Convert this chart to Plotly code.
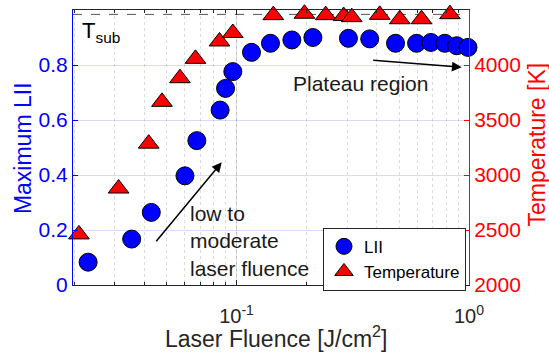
import math
import plotly.graph_objects as go

# ---- data ----
lii_fluence = [0.023, 0.0354, 0.043, 0.060, 0.0675, 0.085, 0.0897, 0.0964, 0.116,
               0.140, 0.173, 0.213, 0.303, 0.374, 0.483, 0.595, 0.686, 0.787, 0.885, 0.99]
lii_max = [0.083, 0.167, 0.264, 0.397, 0.525, 0.636, 0.715, 0.776, 0.846,
           0.879, 0.891, 0.900, 0.897, 0.895, 0.879, 0.879, 0.882, 0.879, 0.870, 0.864]

temp_fluence = [0.0210, 0.0311, 0.0419, 0.0478, 0.0571, 0.0666, 0.0845, 0.0964,
                0.144, 0.196, 0.242, 0.289, 0.313, 0.413, 0.504, 0.625, 0.828]
temperature = [2460, 2877, 3285, 3665, 3880, 4056, 4214, 4291,
               4453, 4466, 4453, 4445, 4435, 4456, 4416, 4416, 4462]

T_SUB = 4460
x_range = [0.0198, 1.0]
lii_range = [0, 1]
temp_range = [2000, 4500]
x_tickvals = [0.1, 1]
x_ticktext = ["10<sup>-1</sup>", "10<sup>0</sup>"]
lii_ticks = [0, 0.2, 0.4, 0.6, 0.8, 1]
lii_ticktext = ["0", "0.2", "0.4", "0.6", "0.8", "1"]
temp_ticks = [2000, 2500, 3000, 3500, 4000, 4500]

FONT = "Liberation Sans, Arial, Helvetica, sans-serif"
DARK = "#262626"
BLUE = "#0000ff"
RED = "#ff0000"

fig = go.Figure()
fig.add_trace(go.Scatter(
    x=lii_fluence, y=lii_max, mode="markers", name="LII",
    marker=dict(symbol="circle", size=18, color=BLUE, line=dict(color="black", width=1)),
    cliponaxis=False, yaxis="y"))
fig.add_trace(go.Scatter(
    x=temp_fluence, y=temperature, mode="markers", name="Temperature",
    marker=dict(symbol="triangle-up", size=18, color=RED, line=dict(color="black", width=1)),
    cliponaxis=False, yaxis="y2"))

fig.update_layout(
    width=549, height=361,
    margin=dict(l=73, r=80, t=10, b=76, autoexpand=False),
    paper_bgcolor="white", plot_bgcolor="white",
    font=dict(family=FONT, size=20, color=DARK),
    showlegend=True,
    legend=dict(x=0.9924, y=0.208, xanchor="right", yanchor="top",
                bgcolor="white", bordercolor=DARK, borderwidth=1,
                font=dict(size=17, color="black"), itemwidth=30,
                tracegroupgap=0),
    xaxis=dict(
        type="log", range=[math.log10(x_range[0]), math.log10(x_range[1])],
        tickvals=x_tickvals, ticktext=x_ticktext, automargin=False,
        ticks="inside", ticklen=5, tickcolor=DARK, tickwidth=1,
        ticklabelstandoff=13,
        showline=True, linecolor=DARK, linewidth=1, mirror="ticks",
        showgrid=True, gridcolor="rgba(38,38,38,0.15)", gridwidth=1,
        tickfont=dict(size=20, color=DARK),
        minor=dict(dtick="D1", ticks="inside", ticklen=3, tickcolor=DARK,
                   showgrid=True, gridcolor="rgba(38,38,38,0.16)", griddash="dot", gridwidth=1),
        zeroline=False,
    ),
    yaxis=dict(
        range=lii_range, tickvals=lii_ticks, ticktext=lii_ticktext, automargin=False,
        ticks="inside", ticklen=5, tickcolor=BLUE,
        showline=True, linecolor=BLUE, linewidth=1,
        showgrid=True, gridcolor="rgba(0,0,255,0.15)", gridwidth=1,
        tickfont=dict(size=21, color=BLUE),
        zeroline=False,
    ),
    yaxis2=dict(
        range=temp_range, tickvals=temp_ticks, overlaying="y", side="right",
        automargin=False,
        ticks="inside", ticklen=5, tickcolor=RED,
        showline=True, linecolor=RED, linewidth=1,
        showgrid=False,
        tickfont=dict(size=21, color=RED),
        zeroline=False,
    ),
)

# T_sub dashed line
fig.add_shape(type="line", xref="paper", x0=0, x1=1, yref="y2", y0=T_SUB, y1=T_SUB,
              line=dict(color="#555555", width=1, dash="dash"), layer="below")

annots = [
    # axis titles
    dict(text="Maximum LII", x=-0.1275, y=0.496, xanchor="center", yanchor="middle",
         textangle=-90, font=dict(size=23, color=BLUE)),
    dict(text="Temperature [K]", x=1.1717, y=0.511, xanchor="center", yanchor="middle",
         textangle=-90, font=dict(size=23, color=RED)),
    dict(text="Laser Fluence [J/cm<sup>2</sup>]", x=0.5126, y=-0.19, xanchor="center",
         yanchor="middle", font=dict(size=23, color=DARK)),
    # in-plot labels
    dict(text="T<sub>sub</sub>", x=0.018, y=0.92, xanchor="left", yanchor="middle",
         font=dict(size=22, color="black")),
    dict(text="Plateau region", x=0.7265, y=0.7345, xanchor="center", yanchor="middle",
         font=dict(size=21, color="#1a1a1a")),
    dict(text="low to<br>moderate<br>laser fluence", x=0.2896, y=0.159, xanchor="left",
         yanchor="middle", align="left", font=dict(size=21, color="#1a1a1a")),
]
for a in annots:
    fig.add_annotation(xref="paper", yref="paper", showarrow=False, **a)

# arrows
fig.add_annotation(xref="paper", yref="paper", x=0.9816, y=0.7916, ax=-90, ay=-7.3,
                   text="", showarrow=True, arrowhead=2, arrowsize=1.3, arrowwidth=1.5,
                   arrowcolor="black")
fig.add_annotation(xref="paper", yref="paper", x=0.3755, y=0.4462, ax=-66.7, ay=80.4,
                   text="", showarrow=True, arrowhead=2, arrowsize=1.3, arrowwidth=1.5,
                   arrowcolor="black")

fig.write_html("out.html", config={"displayModeBar": False},
               post_script="document.body.style.margin='0px';")
